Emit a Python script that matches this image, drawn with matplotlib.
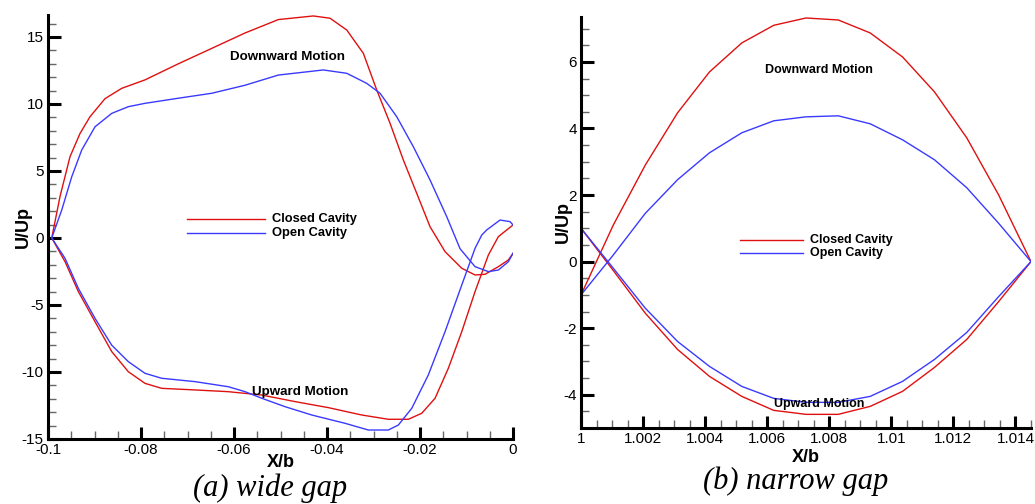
import matplotlib.pyplot as plt
from matplotlib.ticker import MultipleLocator

# (a) wide gap -- each curve is a loop, kept as an upper and a lower branch
wide_closed_up_x = [-0.0992, -0.09742, -0.09527, -0.09312, -0.09097, -0.08774, -0.08415, -0.07914,
                    -0.07198, -0.0648, -0.05763, -0.05047, -0.04295, -0.03935, -0.03576, -0.03219,
                    -0.02931, -0.02645, -0.02359, -0.02071, -0.01785, -0.01462, -0.01103, -0.00817,
                    -0.00602, -0.00316, -0.00101, 0.0]
wide_closed_up_y = [0, 3.1, 6.07, 7.8, 9.05, 10.4, 11.17, 11.8,
                    13.0, 14.15, 15.3, 16.3, 16.57, 16.4, 15.52, 13.78,
                    11.04, 8.56, 5.82, 3.33, 0.84, -1.02, -2.26, -2.76,
                    -2.71, -2.14, -1.64, -1.14]
wide_closed_lo_x = [-0.0992, -0.09634, -0.09348, -0.08989, -0.0863, -0.08273, -0.07914, -0.07555,
                    -0.06839, -0.06123, -0.05404, -0.04688, -0.03972, -0.03254, -0.02682, -0.02252,
                    -0.01963, -0.01677, -0.01391, -0.01103, -0.00817, -0.00531, -0.00316, -0.00209,
                    0.0]
wide_closed_lo_y = [0, -1.77, -4.0, -6.25, -8.48, -9.98, -10.85, -11.22,
                    -11.34, -11.47, -11.72, -12.21, -12.66, -13.21, -13.53, -13.53,
                    -13.08, -11.96, -9.72, -6.99, -4.0, -1.27, 0.1, 0.4,
                    0.97]

wide_open_up_x = [-0.0992, -0.09705, -0.0949, -0.09275, -0.08989, -0.0863, -0.08273, -0.07914,
                  -0.07198, -0.0648, -0.05763, -0.05047, -0.0408, -0.03576, -0.03146, -0.0286,
                  -0.02501, -0.02144, -0.01785, -0.01426, -0.0114, -0.00817, -0.00531, -0.00316,
                  -0.00101, 0.0]
wide_open_up_y = [0, 2.09, 4.57, 6.57, 8.3, 9.3, 9.8, 10.05,
                  10.43, 10.8, 11.4, 12.16, 12.54, 12.29, 11.54, 10.8,
                  9.05, 6.81, 4.33, 1.59, -0.8, -2.14, -2.51, -2.39,
                  -1.77, -1.14]
wide_open_lo_x = [-0.0992, -0.09634, -0.09348, -0.08989, -0.0863, -0.08273, -0.07914, -0.07555,
                  -0.06839, -0.06123, -0.05763, -0.05404, -0.04903, -0.04329, -0.03613, -0.03112,
                  -0.02682, -0.02467, -0.02178, -0.01822, -0.01462, -0.01103, -0.00817, -0.00673,
                  -0.00566, -0.0028, -0.00065, 0.0]
wide_open_lo_y = [0, -1.52, -3.76, -6.0, -8.0, -9.23, -10.1, -10.47,
                  -10.72, -11.1, -11.47, -11.96, -12.59, -13.21, -13.83, -14.33,
                  -14.33, -13.96, -12.71, -10.22, -6.99, -3.51, -0.77, 0.22,
                  0.6, 1.34, 1.22, 0.97]

# (b) narrow gap
narrow_x = [1.0, 1.00104, 1.00207, 1.00311, 1.00414, 1.00518, 1.00621, 1.00725,
            1.00829, 1.00932, 1.01036, 1.01139, 1.01243, 1.01346, 1.0145]
narrow_closed_up = [-1.0, 1.1, 2.9, 4.47, 5.7, 6.57, 7.1, 7.32, 7.26, 6.87, 6.15, 5.1, 3.72, 2.0, 0.0]
narrow_closed_lo = [1.0, -0.27, -1.55, -2.64, -3.45, -4.05, -4.47, -4.59, -4.59, -4.35, -3.9, -3.18,
                    -2.34, -1.2, 0.0]
narrow_open_up = [-1.0, 0.2, 1.45, 2.46, 3.27, 3.87, 4.23, 4.35, 4.38, 4.14, 3.66, 3.06, 2.22, 1.15, 0.0]
narrow_open_lo = [1.0, -0.2, -1.4, -2.4, -3.15, -3.75, -4.11, -4.23, -4.23, -4.05, -3.6, -2.94,
                  -2.13, -1.05, 0.0]

RED = '#e01010'
BLUE = '#3a3aff'
plt.rcParams['font.family'] = ['Liberation Sans', 'DejaVu Sans']
plt.rcParams['axes.unicode_minus'] = False

fig = plt.figure(figsize=(10.35, 5.04), dpi=100)
ax1 = fig.add_axes([0.0464, 0.129, 0.4493, 0.8412])
ax2 = fig.add_axes([0.5614, 0.1508, 0.4347, 0.8155])


def style(ax, xmaj, xmin, ymaj, ymin, xpad, ypad):
    for s in ['top', 'right']:
        ax.spines[s].set_visible(False)
    for s in ['left', 'bottom']:
        ax.spines[s].set_linewidth(2.2)
    ax.xaxis.set_major_locator(MultipleLocator(xmaj))
    ax.xaxis.set_minor_locator(MultipleLocator(xmin))
    ax.yaxis.set_major_locator(MultipleLocator(ymaj))
    ax.yaxis.set_minor_locator(MultipleLocator(ymin))
    ax.tick_params(which='major', direction='in', length=9, width=2.2, labelsize=11, pad=3)
    ax.tick_params(which='minor', direction='in', length=6, width=1, color='#666666')
    ax.set_xlabel('X/b', fontsize=13, fontweight='bold', labelpad=xpad)
    ax.set_ylabel('U/Up', fontsize=13, fontweight='bold', labelpad=ypad)


# wide gap
ax1.plot(wide_closed_up_x, wide_closed_up_y, color=RED, lw=1)
ax1.plot(wide_closed_lo_x, wide_closed_lo_y, color=RED, lw=1)
ax1.plot(wide_open_up_x, wide_open_up_y, color=BLUE, lw=1)
ax1.plot(wide_open_lo_x, wide_open_lo_y, color=BLUE, lw=1)
ax1.set_xlim(-0.1, 0)
ax1.set_ylim(-15, 16.64)
style(ax1, 0.02, 0.005, 5, 1, -2, -7)
ax1.xaxis.set_major_formatter(plt.FuncFormatter(lambda v, p: '0' if abs(v) < 1e-9 else f'{v:g}'))
ax1.text(-0.0484, 13.5, 'Downward Motion', fontsize=9.6, fontweight='bold', ha='center', va='center')
ax1.text(-0.0458, -11.5, 'Upward Motion', fontsize=9.6, fontweight='bold', ha='center', va='center')
ax1.plot([-0.0701, -0.0533], [1.4, 1.4], color=RED, lw=1)
ax1.plot([-0.0701, -0.0533], [0.37, 0.37], color=BLUE, lw=1)
ax1.text(-0.0518, 1.4, 'Closed Cavity', fontsize=9.3, fontweight='bold', va='center')
ax1.text(-0.0518, 0.37, 'Open Cavity', fontsize=9.3, fontweight='bold', va='center')

# narrow gap
ax2.plot(narrow_x, narrow_closed_up, color=RED, lw=1)
ax2.plot(narrow_x, narrow_closed_lo, color=RED, lw=1)
ax2.plot(narrow_x, narrow_open_up, color=BLUE, lw=1)
ax2.plot(narrow_x, narrow_open_lo, color=BLUE, lw=1)
ax2.set_xlim(1, 1.0145)
ax2.set_ylim(-5, 7.35)
style(ax2, 0.002, 0.0005, 2, 0.5, 2, -6)
ax2.xaxis.set_major_formatter(plt.FuncFormatter(lambda v, p: f'{v:g}'))
ax2.text(1.00768, 5.76, 'Downward Motion', fontsize=9, fontweight='bold', ha='center', va='center')
ax2.text(1.00768, -4.29, 'Upward Motion', fontsize=9, fontweight='bold', ha='center', va='center')
ax2.plot([1.00513, 1.00716], [0.66, 0.66], color=RED, lw=1)
ax2.plot([1.00513, 1.00716], [0.27, 0.27], color=BLUE, lw=1)
ax2.text(1.00739, 0.66, 'Closed Cavity', fontsize=9, fontweight='bold', va='center')
ax2.text(1.00739, 0.27, 'Open Cavity', fontsize=9, fontweight='bold', va='center')

fig.text(270 / 1035, 1 - 488 / 504, '(a) wide gap', fontsize=22, style='italic',
         family='Liberation Serif', ha='center', va='center')
fig.text(796 / 1035, 1 - 481 / 504, '(b) narrow gap', fontsize=22, style='italic',
         family='Liberation Serif', ha='center', va='center')

fig.savefig('out.png', dpi=100)
